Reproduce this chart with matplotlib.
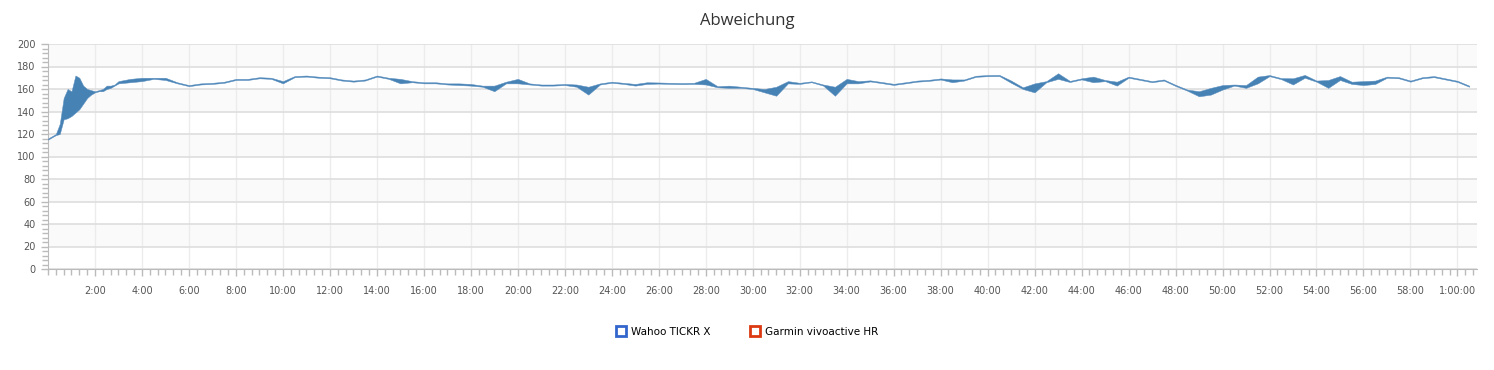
import numpy as np
import matplotlib
matplotlib.use("Agg")
import matplotlib.pyplot as plt
from matplotlib.lines import Line2D
from matplotlib.ticker import FixedLocator, MultipleLocator

# Zeit in Sekunden: Anfangsphase alle 10 s, danach alle 30 s
zeit = np.concatenate([np.arange(0, 180, 10), np.arange(180, 3631, 30)])

wahoo = [
    115, 117, 119, 120, 133, 134, 136, 139, 142, 147, 152, 155, 157, 158, 158, 160, 161, 163,
    165, 166, 167, 169, 168, 165, 162.5, 164, 164.5, 165.5, 168, 168, 169.5, 169, 165,
    170.5, 171, 170, 169.5, 167.5, 166.5, 167.5, 171, 169, 165, 166, 165, 165, 164,
    163.5, 163, 162, 158, 165, 165, 164, 163, 163, 163.5, 162, 155, 164, 165.5, 164.5,
    163, 164.5, 164.8, 164.5, 164.3, 164.5, 164, 161.5, 161, 161, 160, 157, 154, 165,
    164.5, 166, 163, 154, 165, 165, 166.7, 165.2, 163.6, 165, 166.5, 167.2, 168.4, 166,
    167.5, 170.8, 171.4, 171.5, 165.5, 160, 157, 166, 169, 166.2, 168.5, 166, 167, 163,
    170, 168, 166, 167.5, 162.7, 158.5, 153.5, 155, 159.5, 163, 161, 165, 171.4, 168.7,
    164, 170, 166.5, 161, 168, 164.5, 163.5, 164.5, 170, 169.5, 166.5, 169.5, 170.5,
    168.4, 166.3, 162,
]
garmin = [
    116, 118, 120, 129, 152, 160, 158, 172, 170, 163, 160, 159, 158, 159, 160, 163, 163, 164,
    167, 169, 170, 170, 170, 166, 163.5, 165, 165.5, 166.5, 169, 169, 170.5, 170, 167,
    171.5, 172, 171, 170.5, 168.5, 167.5, 168.5, 172, 170, 169, 167, 166, 166, 165,
    165, 164.5, 163, 163, 166.5, 169, 165, 164, 164, 164.5, 164, 162, 165, 166.5, 165.5,
    164.5, 166, 165.8, 165.5, 165.3, 165.5, 169, 162.5, 163, 162, 161, 160, 162, 167,
    165.5, 166.8, 164, 162, 169, 167, 167.7, 166.2, 164.6, 166, 167.5, 168.2, 169.4, 168.5,
    168.5, 171.8, 172.4, 172.5, 167.5, 161.5, 165, 167, 174, 167.2, 169.5, 171, 168, 166.5,
    171, 169, 167, 168.5, 163.7, 159.5, 158, 161, 163.5, 164, 163.5, 171, 172.4, 169.7,
    169.5, 172.5, 167.5, 168, 171.5, 166.5, 167, 167.5, 171, 170.5, 167.5, 170.5, 171.5,
    169.4, 167.3, 163,
]

y_ticks = [0, 20, 40, 60, 80, 100, 120, 140, 160, 180, 200]
x_ticks = list(range(120, 3601, 120))
x_labels = ["%d:00" % (t // 60) for t in x_ticks[:-1]] + ["1:00:00"]

fig = plt.figure(figsize=(14.94, 3.70), dpi=100)
ax = fig.add_axes([48 / 1494, 1 - 269 / 370, (1477 - 48) / 1494, 225 / 370])

# abwechselnde Hintergrundbaender
for lo in range(20, 200, 40):
    ax.axhspan(lo, lo + 20, color="#fafafa", zorder=0, lw=0)
ax.axhspan(180, 200, color="#fafafa", zorder=0, lw=0)

ax.fill_between(zeit, wahoo, garmin, color="#4682b4", lw=0.35, edgecolor="#5b8fc0", zorder=3)

ax.set_xlim(0, 3650)
ax.set_ylim(0, 200)
ax.yaxis.set_major_locator(FixedLocator(y_ticks))
ax.yaxis.set_minor_locator(MultipleLocator(4))
ax.xaxis.set_major_locator(FixedLocator(x_ticks))
ax.set_xticklabels(x_labels)
ax.xaxis.set_minor_locator(MultipleLocator(20))

ax.grid(axis="y", which="major", color="#dedede", lw=1.2, zorder=1)
ax.grid(axis="x", which="major", color="#ececec", lw=1.0, zorder=1)
ax.set_axisbelow(True)

for s in ["top", "right"]:
    ax.spines[s].set_visible(False)
ax.spines["left"].set_color("#bbbbbb")
ax.spines["bottom"].set_color("#bbbbbb")

ax.tick_params(axis="both", which="major", labelsize=7, labelcolor="#555555",
               color="#bbbbbb", length=5, width=1)
ax.tick_params(axis="both", which="minor", color="#bbbbbb", length=4, width=1)
ax.tick_params(axis="x", which="major", pad=7)
ax.tick_params(axis="y", which="major", pad=4)

fig.text(0.5, 1 - 21 / 370, "Abweichung", ha="center", va="center",
         fontsize=12, color="#333333", family="Open Sans")

handles = [
    Line2D([], [], ls="none", marker="s", ms=7, mfc="none", mec="#3366cc", mew=2),
    Line2D([], [], ls="none", marker="s", ms=7, mfc="none", mec="#dc3912", mew=2),
]
fig.legend(handles, ["Wahoo TICKR X", "Garmin vivoactive HR"], loc="center",
           bbox_to_anchor=(0.5, 1 - 332 / 370), ncol=2, frameon=False,
           fontsize=7.5, handletextpad=0.5, columnspacing=3.7, handlelength=1.0)

fig.savefig("out.png", dpi=100)
